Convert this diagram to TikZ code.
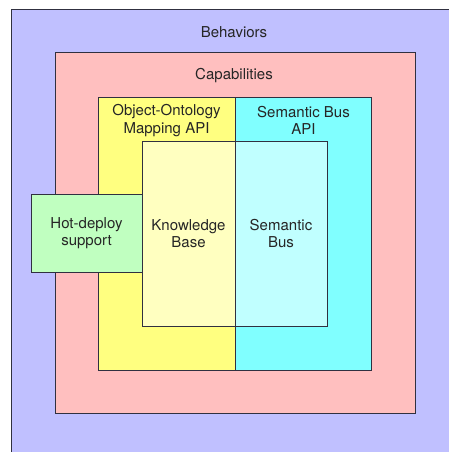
\documentclass[tikz,border=0pt]{standalone}
\usepackage{fontspec}
\setmainfont{TeX Gyre Heros}
\definecolor{behc}{HTML}{C0C0FF}
\definecolor{capc}{HTML}{FFBFBF}
\definecolor{oomc}{HTML}{FFFF80}
\definecolor{sbac}{HTML}{80FFFF}
\definecolor{kbc}{HTML}{FFFFC0}
\definecolor{sbc}{HTML}{C0FFFF}
\definecolor{hdc}{HTML}{C0FFC0}
\definecolor{edge}{HTML}{303040}
\tikzset{
  box/.style={draw=edge, line width=1pt, inner sep=0pt, outer sep=0pt},
  lbl/.style={font=\fontsize{15}{17.5}\selectfont, text=black!85, align=center, inner sep=0pt}
}
\newcommand{\boxat}[6]{%
  \node[box, fill=#6, anchor=north west, minimum width={(#3-#1)*1pt}, minimum height={(#4-#2)*1pt}] (#5) at (#1,#2) {};}
\begin{document}
\begin{tikzpicture}[x=1pt,y=-1pt]
\useasboundingbox (0,0) rectangle (449,452);
% outer (extends beyond page)
\fill[behc] (11,10) rectangle (470,470);
\node[inner sep=0pt, outer sep=0pt, minimum size=0pt] (behtl) at (11,10) {};
\coordinate (behtr) at (470,10);
\coordinate (behbl) at (11,470);
\draw[draw=edge, line width=1pt] (behbl) -- (behtl.center) -- (behtr);
\node[lbl] (behl) at (234,32) {Behaviors};
% capabilities
\boxat{55}{53}{415}{413}{cap}{capc}
\node[lbl] (capl) at (234,76) {Capabilities};
% API boxes
\boxat{98}{97}{235}{370}{oom}{oomc}
\boxat{235}{97}{371}{370}{sba}{sbac}
\node[lbl] (ooml) at (166.5,120.5) {Object-Ontology\\Mapping API};
\node[lbl] (sbal) at (303.5,120.5) {Semantic Bus\\API};
% inner
\boxat{142}{141}{235}{326}{kb}{kbc}
\boxat{235}{141}{327}{326}{sb}{sbc}
\node[lbl] at (kb.center) {Knowledge\\Base};
\node[lbl] at (sb.center) {Semantic\\Bus};
% hot deploy
\boxat{31}{194}{142}{272}{hd}{hdc}
\node[lbl] at (hd.center) {Hot-deploy\\support};
\end{tikzpicture}
\end{document}
